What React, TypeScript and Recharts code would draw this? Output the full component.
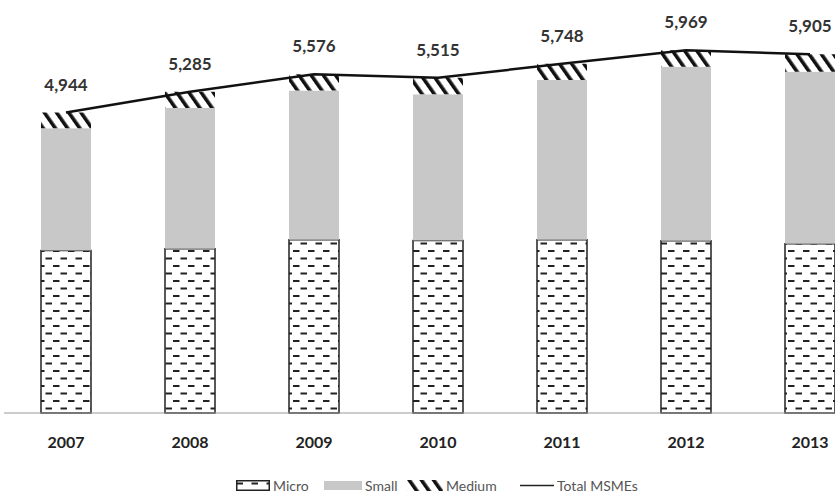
import { ComposedChart, Bar, Line, XAxis, YAxis, Legend, LabelList } from 'recharts';

// MSMEs by size, 2007-2013
const years = ['2007', '2008', '2009', '2010', '2011', '2012', '2013'];
const micro = [2674, 2702, 2850, 2839, 2850, 2834, 2784];
const small = [2010, 2319, 2456, 2406, 2628, 2865, 2831];
const medium = [260, 264, 270, 270, 270, 270, 290];
const totalMsmes = [4944, 5285, 5576, 5515, 5748, 5969, 5905];

const rows = years.map((year, i) => ({
  year,
  micro: micro[i],
  small: small[i],
  medium: medium[i],
  total: totalMsmes[i],
}));

const font = 'Lato, "Open Sans", sans-serif';

function LegendBox() {
  const item = (left: number, icon: React.ReactNode, label: string) => (
    <div style={{ position: 'absolute', left, top: 2, display: 'flex', alignItems: 'center', gap: 3 }}>
      {icon}
      <span>{label}</span>
    </div>
  );
  return (
    <div style={{ position: 'relative', height: 22, fontFamily: font, fontSize: 14, color: '#555' }}>
      {item(232, <svg width={34} height={11}><rect x={0.75} y={0.75} width={32.5} height={9.5} fill="url(#microPat)" stroke="#222" strokeWidth={1.5} /></svg>, 'Micro')}
      {item(320, <svg width={38} height={9}><rect x={0} y={0} width={38} height={9} fill="#c8c8c8" /></svg>, 'Small')}
      {item(403, <svg width={36} height={11}><rect x={0} y={0} width={36} height={11} fill="url(#hatchPat)" /></svg>, 'Medium')}
      {item(516, <svg width={34} height={11}><line x1={0} y1={5.5} x2={34} y2={5.5} stroke="#222" strokeWidth={1.5} /></svg>, 'Total MSMEs')}
    </div>
  );
}

export default function App() {
  return (
    <div style={{ position: 'absolute', left: 0, top: 0, width: 835, height: 499, overflow: 'hidden', background: '#fff' }}>
      <ComposedChart width={880} height={499} data={rows} margin={{ top: 18, right: 8, left: 4, bottom: 2 }}>
        <defs>
          <pattern id="microPat" patternUnits="userSpaceOnUse" width={15} height={15}>
            <rect x={0} y={0} width={15} height={15} fill="#fff" />
            <rect x={0.5} y={2.5} width={6.5} height={2} fill="#222" />
            <rect x={8} y={10} width={6.5} height={2} fill="#222" />
          </pattern>
          <pattern id="hatchPat" patternUnits="userSpaceOnUse" width={10} height={10} patternTransform="rotate(-35)">
            <rect x={0} y={0} width={10} height={10} fill="#fff" />
            <rect x={0} y={0} width={3.6} height={10} fill="#111" />
          </pattern>
        </defs>
        <XAxis
          dataKey="year"
          interval={0}
          height={62}
          tickLine={false}
          tickMargin={18}
          axisLine={{ stroke: '#999', strokeWidth: 1 }}
          tick={{ fill: '#222', fontSize: 16, fontWeight: 700, fontFamily: font }}
        />
        <YAxis hide domain={[0, 6500]} />
        <Legend verticalAlign="bottom" content={() => <LegendBox />} />
        <Bar dataKey="micro" stackId="a" barSize={50} fill="url(#microPat)" stroke="#222" strokeWidth={1.5} isAnimationActive={false} />
        <Bar dataKey="small" stackId="a" barSize={50} fill="#c8c8c8" isAnimationActive={false} />
        <Bar dataKey="medium" stackId="a" barSize={50} fill="url(#hatchPat)" isAnimationActive={false} />
        <Line
          type="linear"
          dataKey="total"
          stroke="#111"
          strokeWidth={2.5}
          dot={false}
          activeDot={false}
          isAnimationActive={false}
        >
          <LabelList
            dataKey="total"
            position="top"
            offset={22}
            formatter={(v: any) => Number(v).toLocaleString('en-US')}
            fill="#333"
            fontSize={17}
            fontWeight={700}
            fontFamily={font}
          />
        </Line>
      </ComposedChart>
    </div>
  );
}
